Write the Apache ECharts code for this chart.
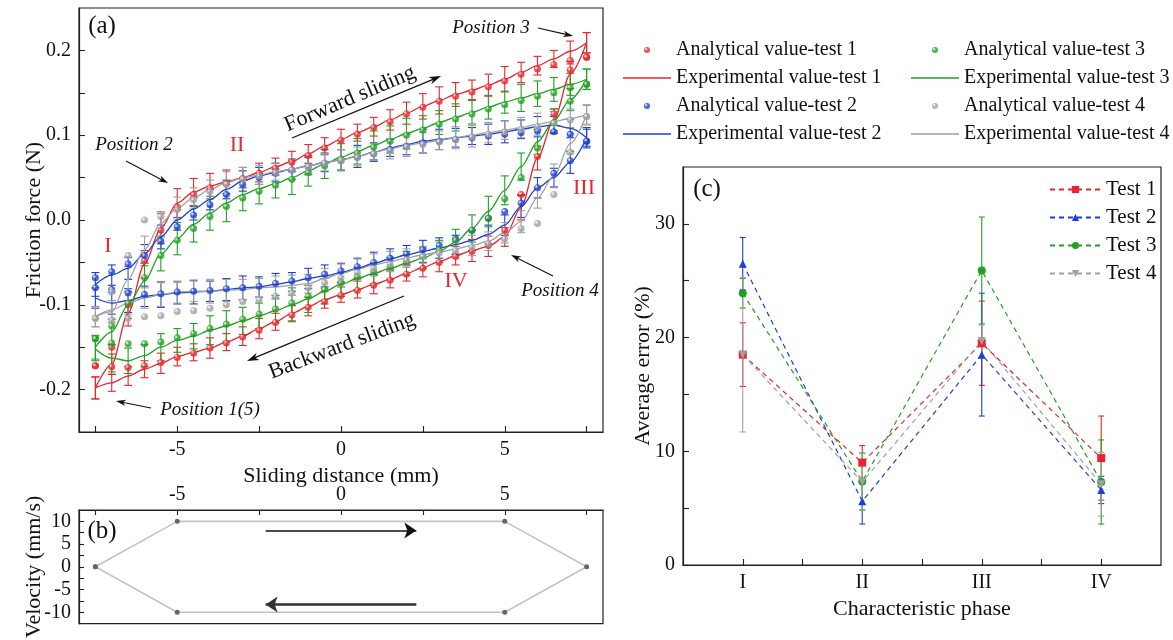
<!DOCTYPE html>
<html>
<head>
<meta charset="utf-8">
<script src="https://cdn.jsdelivr.net/npm/echarts@6/dist/echarts.min.js"></script>
<style>
  html, body { margin: 0; padding: 0; background: #fff; }
  #chart { width: 1173px; height: 640px; }
</style>
</head>
<body>
<div id="chart"></div>
<script>
// ---- (a) friction force vs sliding distance ----
const dist = [-7.5, -7, -6.5, -6, -5.5, -5, -4.5, -4, -3.5, -3, -2.5, -2, -1.5, -1, -0.5, 0,
  0.5, 1, 1.5, 2, 2.5, 3, 3.5, 4, 4.5, 5, 5.5, 6, 6.5, 7, 7.5];

// test 1
const expFwd1 = [-0.198,-0.170,-0.110,-0.052,-0.010,0.020,0.033,0.040,0.045,0.050,0.056,0.063,0.069,0.078,0.087,0.095,0.103,0.110,0.118,0.126,0.134,0.141,0.148,0.153,0.159,0.166,0.174,0.182,0.190,0.199,0.209];
const expBwd1 = [-0.198,-0.192,-0.184,-0.176,-0.169,-0.161,-0.156,-0.151,-0.144,-0.137,-0.128,-0.120,-0.110,-0.102,-0.094,-0.088,-0.082,-0.076,-0.070,-0.063,-0.056,-0.049,-0.042,-0.036,-0.031,-0.020,0.015,0.073,0.118,0.172,0.209];
const errFwd1 = [0.013,0.012,0.015,0.016,0.018,0.017,0.016,0.015,0.014,0.012,0.011,0.010,0.012,0.011,0.010,0.012,0.010,0.011,0.012,0.013,0.015,0.016,0.014,0.012,0.013,0.015,0.012,0.011,0.010,0.012,0.012];
const errBwd1 = [0.013,0.010,0.011,0.010,0.012,0.011,0.010,0.012,0.010,0.011,0.012,0.010,0.009,0.011,0.010,0.009,0.010,0.011,0.010,0.009,0.011,0.012,0.011,0.013,0.012,0.011,0.015,0.014,0.013,0.012,0.012];
const anaFwd1 = [-0.172,-0.150,-0.100,-0.048,-0.012,0.015,0.030,0.038,0.043,0.049,0.055,0.061,0.068,0.076,0.085,0.094,0.101,0.109,0.116,0.125,0.133,0.140,0.146,0.151,0.157,0.164,0.172,0.178,0.183,0.188,0.192];
const anaBwd1 = [-0.172,-0.173,-0.174,-0.172,-0.168,-0.162,-0.157,-0.151,-0.145,-0.138,-0.130,-0.121,-0.112,-0.103,-0.096,-0.089,-0.083,-0.077,-0.071,-0.064,-0.057,-0.050,-0.043,-0.037,-0.030,-0.012,0.030,0.075,0.125,0.177,0.192];

// test 2
const expFwd2 = [-0.076,-0.065,-0.057,-0.040,-0.020,0.000,0.013,0.024,0.036,0.046,0.052,0.056,0.060,0.064,0.068,0.071,0.075,0.080,0.085,0.089,0.093,0.095,0.097,0.099,0.101,0.104,0.107,0.110,0.112,0.108,0.097];
const expBwd2 = [-0.092,-0.098,-0.095,-0.090,-0.088,-0.086,-0.085,-0.084,-0.082,-0.080,-0.079,-0.076,-0.073,-0.069,-0.066,-0.062,-0.057,-0.051,-0.046,-0.041,-0.037,-0.033,-0.029,-0.024,-0.017,-0.006,0.016,0.038,0.050,0.068,0.097];
const errFwd2 = [0.014,0.012,0.013,0.011,0.014,0.012,0.013,0.012,0.011,0.012,0.010,0.011,0.012,0.010,0.011,0.012,0.013,0.011,0.010,0.012,0.014,0.012,0.011,0.010,0.012,0.013,0.011,0.012,0.010,0.011,0.010];
const errBwd2 = [0.012,0.013,0.014,0.012,0.015,0.013,0.014,0.012,0.013,0.014,0.012,0.013,0.011,0.012,0.013,0.011,0.012,0.013,0.012,0.011,0.013,0.012,0.011,0.012,0.011,0.012,0.013,0.012,0.011,0.013,0.012];
const anaFwd2 = [-0.068,-0.061,-0.052,-0.042,-0.025,-0.008,0.006,0.018,0.030,0.042,0.050,0.055,0.059,0.063,0.067,0.070,0.074,0.078,0.083,0.087,0.091,0.093,0.095,0.097,0.099,0.101,0.103,0.105,0.104,0.101,0.093];
const anaBwd2 = [-0.080,-0.082,-0.086,-0.088,-0.087,-0.085,-0.084,-0.083,-0.081,-0.080,-0.078,-0.075,-0.072,-0.068,-0.064,-0.060,-0.055,-0.050,-0.045,-0.040,-0.035,-0.030,-0.022,-0.012,0.002,0.010,0.020,0.038,0.055,0.070,0.093];

// test 3
const expFwd3 = [-0.150,-0.132,-0.100,-0.072,-0.040,-0.022,-0.005,0.008,0.020,0.030,0.037,0.043,0.050,0.058,0.066,0.074,0.081,0.088,0.095,0.102,0.108,0.115,0.121,0.127,0.133,0.139,0.144,0.149,0.154,0.160,0.166];
const expBwd3 = [-0.152,-0.163,-0.166,-0.160,-0.150,-0.142,-0.137,-0.130,-0.125,-0.119,-0.113,-0.107,-0.100,-0.093,-0.084,-0.076,-0.069,-0.063,-0.057,-0.051,-0.045,-0.037,-0.026,-0.010,0.010,0.035,0.063,0.092,0.117,0.142,0.166];
const errFwd3 = [0.014,0.015,0.016,0.018,0.020,0.019,0.021,0.020,0.022,0.019,0.018,0.017,0.020,0.018,0.017,0.016,0.015,0.017,0.016,0.018,0.015,0.014,0.016,0.015,0.014,0.013,0.016,0.015,0.014,0.013,0.012];
const errBwd3 = [0.014,0.016,0.015,0.013,0.016,0.014,0.015,0.017,0.018,0.016,0.015,0.014,0.020,0.016,0.015,0.014,0.013,0.012,0.013,0.014,0.012,0.013,0.015,0.016,0.018,0.017,0.016,0.015,0.014,0.013,0.012];
const anaFwd3 = [-0.140,-0.125,-0.098,-0.068,-0.042,-0.024,-0.010,0.004,0.016,0.026,0.034,0.041,0.048,0.056,0.064,0.072,0.079,0.086,0.093,0.100,0.106,0.113,0.119,0.125,0.131,0.136,0.141,0.146,0.150,0.156,0.160];
const anaBwd3 = [-0.140,-0.145,-0.146,-0.146,-0.144,-0.139,-0.134,-0.128,-0.123,-0.117,-0.111,-0.105,-0.098,-0.090,-0.082,-0.074,-0.067,-0.061,-0.055,-0.049,-0.043,-0.035,-0.024,-0.012,0.002,0.025,0.050,0.085,0.115,0.140,0.160];

// test 4
const expFwd4 = [-0.114,-0.108,-0.070,-0.035,-0.004,0.014,0.026,0.036,0.044,0.050,0.053,0.057,0.060,0.064,0.068,0.071,0.075,0.080,0.084,0.088,0.091,0.094,0.097,0.100,0.103,0.106,0.109,0.113,0.116,0.120,0.124];
const expBwd4 = [-0.114,-0.106,-0.098,-0.092,-0.088,-0.085,-0.084,-0.084,-0.083,-0.082,-0.080,-0.079,-0.077,-0.075,-0.069,-0.063,-0.058,-0.053,-0.049,-0.045,-0.041,-0.038,-0.034,-0.030,-0.025,-0.015,-0.002,0.026,0.052,0.090,0.124];
const errFwd4 = [0.012,0.013,0.015,0.016,0.014,0.013,0.012,0.011,0.013,0.012,0.011,0.010,0.012,0.011,0.010,0.012,0.011,0.010,0.012,0.013,0.012,0.011,0.013,0.014,0.012,0.011,0.012,0.013,0.012,0.011,0.012];
const errBwd4 = [0.012,0.011,0.013,0.012,0.014,0.013,0.012,0.014,0.013,0.012,0.011,0.013,0.012,0.011,0.012,0.011,0.012,0.013,0.012,0.011,0.010,0.012,0.011,0.012,0.011,0.012,0.013,0.012,0.014,0.012,0.011];
const anaFwd4 = [-0.116,-0.085,-0.042,0.000,0.004,0.012,0.024,0.034,0.042,0.048,0.052,0.056,0.059,0.063,0.067,0.070,0.074,0.078,0.082,0.086,0.089,0.092,0.095,0.098,0.101,0.104,0.107,0.110,0.114,0.118,0.122];
const anaBwd4 = [-0.116,-0.118,-0.116,-0.114,-0.113,-0.108,-0.107,-0.104,-0.100,-0.096,-0.094,-0.090,-0.086,-0.080,-0.074,-0.068,-0.062,-0.057,-0.052,-0.047,-0.043,-0.039,-0.036,-0.032,-0.028,-0.022,-0.010,-0.004,0.030,0.080,0.122];

// ---- (b) velocity profile ----
const velX = [-7.5, -5, 5, 7.5, 5, -5, -7.5];
const velY = [0, 10, 10, 0, -10, -10, 0];

// ---- (c) average error per phase ----
const phases = ['I', 'II', 'III', 'IV'];
const avgErr1 = [18.5, 9.0, 19.5, 9.4];
const sdErr1 = [2.8, 1.5, 3.7, 3.7];
const avgErr2 = [26.5, 5.6, 18.5, 6.6];
const sdErr2 = [2.3, 2.0, 5.4, 1.2];
const avgErr3 = [23.9, 7.35, 25.9, 7.3];
const sdErr3 = [1.3, 2.5, 4.7, 3.7];
const avgErr4 = [18.5, 7.3, 19.7, 7.1];
const sdErr4 = [6.8, 2.5, 1.4, 2.8];

const FONT = 'Liberation Serif';
const INK = '#111';
const colors = ['#e8262b', '#1d3fd6', '#22a022', '#a0a0a0'];

const tests = [
  {fwd: expFwd1, bwd: expBwd1, ef: errFwd1, eb: errBwd1, af: anaFwd1, ab: anaBwd1},
  {fwd: expFwd2, bwd: expBwd2, ef: errFwd2, eb: errBwd2, af: anaFwd2, ab: anaBwd2},
  {fwd: expFwd3, bwd: expBwd3, ef: errFwd3, eb: errBwd3, af: anaFwd3, ab: anaBwd3},
  {fwd: expFwd4, bwd: expBwd4, ef: errFwd4, eb: errBwd4, af: anaFwd4, ab: anaBwd4}
];
const phaseTests = [
  {avg: avgErr1, sd: sdErr1, symbol: 'rect', rot: 0},
  {avg: avgErr2, sd: sdErr2, symbol: 'triangle', rot: 0},
  {avg: avgErr3, sd: sdErr3, symbol: 'circle', rot: 0},
  {avg: avgErr4, sd: sdErr4, symbol: 'triangle', rot: 180}
];

function errRender(cap) {
  return function (params, api) {
    const x = api.value(0), lo = api.value(1), hi = api.value(2);
    const a = api.coord([x, hi]), b = api.coord([x, lo]);
    const st = {stroke: api.visual('color'), lineWidth: 1.1};
    return {type: 'group', children: [
      {type: 'line', shape: {x1: a[0], y1: a[1], x2: b[0], y2: b[1]}, style: st},
      {type: 'line', shape: {x1: a[0] - cap, y1: a[1], x2: a[0] + cap, y2: a[1]}, style: st},
      {type: 'line', shape: {x1: b[0] - cap, y1: b[1], x2: b[0] + cap, y2: b[1]}, style: st}
    ]};
  };
}

function ball(c) {
  return {type: 'radial', x: 0.35, y: 0.35, r: 0.75,
    colorStops: [{offset: 0, color: '#ffffff'}, {offset: 0.4, color: c}, {offset: 1, color: c}]};
}

const series = [];
tests.forEach((t, i) => {
  const c = colors[i];
  [[t.fwd, t.ef], [t.bwd, t.eb]].forEach(([v, e]) => {
    series.push({
      type: 'custom', xAxisIndex: 0, yAxisIndex: 0, silent: true, z: 2,
      renderItem: errRender(4), itemStyle: {color: c},
      encode: {x: 0, y: [1, 2]},
      data: dist.map((x, j) => [x, v[j] - e[j], v[j] + e[j]])
    });
  });
});
tests.forEach((t, i) => {
  const c = colors[i];
  const n = i + 1;
  [t.fwd, t.bwd].forEach(v => {
    series.push({
      type: 'line', name: 'Experimental value-test ' + n, xAxisIndex: 0, yAxisIndex: 0,
      data: dist.map((x, j) => [x, v[j]]), symbol: 'none', smooth: 0.3, smoothMonotone: 'x',
      lineStyle: {color: c, width: 1.3}, itemStyle: {color: c}, z: 3
    });
  });
});
tests.forEach((t, i) => {
  const c = colors[i];
  series.push({
    type: 'scatter', name: 'Analytical value-test ' + (i + 1), xAxisIndex: 0, yAxisIndex: 0,
    data: dist.map((x, j) => [x, t.af[j]]).concat(dist.map((x, j) => [x, t.ab[j]])),
    symbolSize: 7, itemStyle: {color: ball(c)}, z: 4
  });
});

// (b)
series.push({
  type: 'line', xAxisIndex: 1, yAxisIndex: 1,
  data: velX.map((x, j) => [x, velY[j]]),
  symbol: 'circle', symbolSize: 5,
  lineStyle: {color: '#c4c4c4', width: 1.6}, itemStyle: {color: '#666'},
  markLine: {
    silent: true, animation: false, label: {show: false},
    symbol: ['none', 'arrow'], symbolSize: 12,
    data: [
      [{coord: [-2.3, 8], lineStyle: {color: '#111', width: 1.6, type: 'solid'}}, {coord: [2.3, 8]}],
      [{coord: [2.3, -8.3], lineStyle: {color: '#333', width: 2.6, type: 'solid'}}, {coord: [-2.3, -8.3]}]
    ]
  }
});

// (c)
phaseTests.forEach((t, i) => {
  series.push({
    type: 'custom', xAxisIndex: 2, yAxisIndex: 2, silent: true, z: 2,
    renderItem: errRender(3), itemStyle: {color: colors[i]},
    encode: {x: 0, y: [1, 2]},
    data: t.avg.map((v, j) => [j + 1, v - t.sd[j], v + t.sd[j]])
  });
});
phaseTests.forEach((t, i) => {
  series.push({
    type: 'line', name: 'Test ' + (i + 1), xAxisIndex: 2, yAxisIndex: 2,
    data: t.avg.map((v, j) => [j + 1, v]),
    symbol: t.symbol, symbolRotate: t.rot, symbolSize: 8,
    lineStyle: {color: colors[i], width: 1.2, type: [5, 4]},
    itemStyle: {color: colors[i]}, z: 3
  });
});

const axisLine = {onZero: false, lineStyle: {color: '#222', width: 1.2}};
const tickStyle = {lineStyle: {color: '#222', width: 1.1}};
const labelStyle = {fontFamily: FONT, fontSize: 20, color: INK};
const nameStyle = {fontFamily: FONT, fontSize: 22, color: INK};
const distTicks = [-7.5, -5, -2.5, 0, 2.5, 5, 7.5];

function arrow(x1, y1, x2, y2, w, head, color) {
  const ang = Math.atan2(y2 - y1, x2 - x1);
  const hx = x2 - head * Math.cos(ang), hy = y2 - head * Math.sin(ang);
  const px = Math.sin(ang) * head * 0.32, py = -Math.cos(ang) * head * 0.32;
  return [
    {type: 'line', shape: {x1: x1, y1: y1, x2: hx + (x2 - hx) * 0.5, y2: hy + (y2 - hy) * 0.5}, style: {stroke: color, lineWidth: w}},
    {type: 'polygon', shape: {points: [[x2, y2], [hx + px, hy + py], [hx + (x2 - hx) * 0.3, hy + (y2 - hy) * 0.3], [hx - px, hy - py]]}, style: {fill: color}}
  ];
}
function txt(x, y, text, size, opts) {
  opts = opts || {};
  return {
    type: 'text', x: x, y: y, rotation: opts.rot || 0, z: 10,
    style: {text: text, fill: opts.color || INK,
      font: (opts.italic ? 'italic ' : '') + size + 'px "' + FONT + '"',
      textAlign: 'center', textVerticalAlign: 'middle', align: 'center', verticalAlign: 'middle'}
  };
}

const graphics = [
  txt(102, 26, '(a)', 25),
  txt(102, 531, '(b)', 25),
  txt(707, 189, '(c)', 25),
  txt(134, 145, 'Position 2', 19, {italic: true}),
  txt(491, 28, 'Position 3', 19, {italic: true}),
  txt(560, 291, 'Position 4', 19, {italic: true}),
  txt(210, 410, 'Position 1(5)', 19, {italic: true}),
  txt(108, 246, 'I', 22, {color: colors[0]}),
  txt(237, 145, 'II', 22, {color: colors[0]}),
  txt(584, 188, 'III', 22, {color: colors[0]}),
  txt(456, 281, 'IV', 22, {color: colors[0]}),
  txt(350, 99, 'Forward sliding', 22, {rot: 0.40}),
  txt(342, 346, 'Backward sliding', 22, {rot: 0.36})
].concat(
  arrow(292, 138, 441, 76, 1.3, 12, INK),
  arrow(404, 296, 247, 361, 1.3, 12, INK),
  arrow(126, 161, 168, 183, 1.1, 10, INK),
  arrow(538, 28, 573, 36, 1.1, 10, INK),
  arrow(553, 276, 511, 255, 1.1, 10, INK),
  arrow(151, 408, 116, 401, 1.1, 10, INK)
);

const lineIcon = 'path://M0,0H48V1.6H0Z';
const legendBase = {
  orient: 'vertical', itemWidth: 48, itemHeight: 6, itemGap: 8, selectedMode: false,
  textStyle: {fontFamily: FONT, fontSize: 20, color: INK}
};
function legendItems(a, b) {
  return [
    {name: 'Analytical value-test ' + a, icon: 'circle'},
    {name: 'Experimental value-test ' + a, icon: lineIcon},
    {name: 'Analytical value-test ' + b, icon: 'circle'},
    {name: 'Experimental value-test ' + b, icon: lineIcon}
  ];
}

const chart = echarts.init(document.getElementById('chart'));
chart.setOption({
  animation: false,
  backgroundColor: '#fff',
  grid: [
    {left: 79, top: 8, width: 524, height: 424, show: true, borderColor: '#222', borderWidth: 1.2},
    {left: 79, top: 510, width: 524, height: 134, show: true, borderColor: '#222', borderWidth: 1.2},
    {left: 683, top: 167, width: 478, height: 398, show: true, borderColor: '#222', borderWidth: 1.2}
  ],
  xAxis: [
    {type: 'value', gridIndex: 0, min: -8, max: 8, axisLine: axisLine, splitLine: {show: false},
      axisTick: Object.assign({inside: true, length: 6, customValues: distTicks}, tickStyle),
      axisLabel: Object.assign({customValues: [-5, 0, 5], margin: 8}, labelStyle),
      name: 'Sliding distance (mm)', nameLocation: 'middle', nameGap: 25, nameTextStyle: nameStyle},
    {type: 'value', gridIndex: 1, position: 'top', min: -8, max: 8, axisLine: axisLine, splitLine: {show: false},
      axisTick: Object.assign({inside: true, length: 5, customValues: distTicks}, tickStyle),
      axisLabel: Object.assign({customValues: [-5, 0, 5], margin: 5}, labelStyle)},
    {type: 'value', gridIndex: 2, min: 0.5, max: 4.5, axisLine: axisLine, splitLine: {show: false},
      axisTick: Object.assign({inside: true, length: 6, customValues: [1, 1.5, 2, 2.5, 3, 3.5, 4]}, tickStyle),
      axisLabel: Object.assign({customValues: [1, 2, 3, 4], margin: 8, formatter: v => phases[Math.round(v) - 1]}, labelStyle),
      name: 'Characteristic phase', nameLocation: 'middle', nameGap: 30, nameTextStyle: nameStyle}
  ],
  yAxis: [
    {type: 'value', gridIndex: 0, min: -0.25, max: 0.25, axisLine: axisLine, splitLine: {show: false},
      axisTick: Object.assign({inside: true, length: 6, customValues: [-0.2, -0.15, -0.1, -0.05, 0, 0.05, 0.1, 0.15, 0.2]}, tickStyle),
      axisLabel: Object.assign({customValues: [-0.2, -0.1, 0, 0.1, 0.2], margin: 8, formatter: v => v.toFixed(1)}, labelStyle),
      name: 'Friction force (N)', nameLocation: 'middle', nameGap: 34, nameMoveOverlap: false, nameTextStyle: nameStyle},
    {type: 'value', gridIndex: 1, min: -12.5, max: 12.5, axisLine: axisLine, splitLine: {show: false},
      axisTick: Object.assign({inside: true, length: 5, customValues: [-10, -7.5, -5, -2.5, 0, 2.5, 5, 7.5, 10]}, tickStyle),
      axisLabel: Object.assign({customValues: [-10, -5, 0, 5, 10], margin: 8}, labelStyle),
      name: 'Velocity (mm/s)', nameLocation: 'middle', nameGap: 34, nameMoveOverlap: false, nameTextStyle: nameStyle},
    {type: 'value', gridIndex: 2, min: 0, max: 35, axisLine: axisLine, splitLine: {show: false},
      axisTick: Object.assign({inside: true, length: 6, customValues: [0, 5, 10, 15, 20, 25, 30]}, tickStyle),
      axisLabel: Object.assign({customValues: [0, 10, 20, 30], margin: 8}, labelStyle),
      name: 'Average error (%)', nameLocation: 'middle', nameGap: 29, nameMoveOverlap: false, nameTextStyle: nameStyle}
  ],
  legend: [
    Object.assign({left: 618, top: 35, data: legendItems(1, 2)}, legendBase),
    Object.assign({left: 906, top: 35, data: legendItems(3, 4)}, legendBase),
    Object.assign({}, legendBase, {left: 1044, top: 174, itemWidth: 51, itemHeight: 9, itemGap: 7,
      textStyle: {fontFamily: FONT, fontSize: 21, color: INK}, data: ['Test 1', 'Test 2', 'Test 3', 'Test 4']})
  ],
  graphic: graphics,
  series: series
});
</script>
</body>
</html>
